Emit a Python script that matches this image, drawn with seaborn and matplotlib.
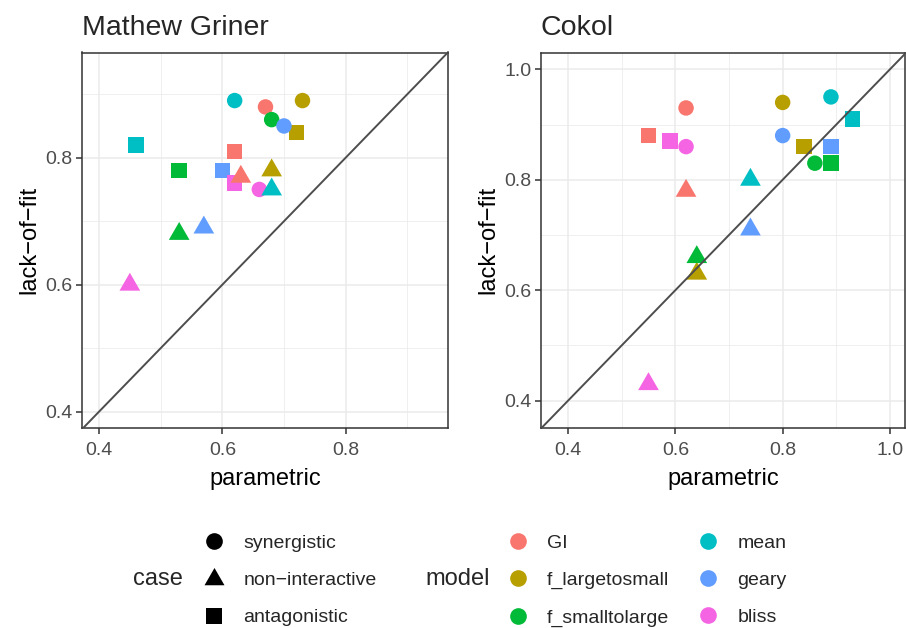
import numpy as np
import pandas as pd
import matplotlib
matplotlib.use("Agg")
import matplotlib.pyplot as plt
import seaborn as sns
from matplotlib.path import Path
from matplotlib.lines import Line2D
from matplotlib.ticker import MultipleLocator, FormatStrFormatter

# ---------------- data ----------------
models = ["GI", "f_largetosmall", "f_smalltolarge", "mean", "geary", "bliss"]
cases = ["synergistic", "non-interactive", "antagonistic"]
case_labels = ["synergistic", "non\u2212interactive", "antagonistic"]
palette = ["#F8766D", "#B79F00", "#00BA38", "#00BFC4", "#619CFF", "#F564E3"]
panels = ["Mathew Griner", "Cokol"]

# Mathew Griner panel (values in model order)
griner_syn_x = [0.67, 0.73, 0.68, 0.62, 0.70, 0.66]
griner_syn_y = [0.88, 0.89, 0.86, 0.89, 0.85, 0.75]
griner_non_x = [0.63, 0.68, 0.53, 0.68, 0.57, 0.45]
griner_non_y = [0.77, 0.78, 0.68, 0.75, 0.69, 0.60]
griner_ant_x = [0.62, 0.72, 0.53, 0.46, 0.60, 0.62]
griner_ant_y = [0.81, 0.84, 0.78, 0.82, 0.78, 0.76]

# Cokol panel (values in model order)
cokol_syn_x = [0.62, 0.80, 0.86, 0.89, 0.80, 0.62]
cokol_syn_y = [0.93, 0.94, 0.83, 0.95, 0.88, 0.86]
cokol_non_x = [0.62, 0.64, 0.64, 0.74, 0.74, 0.55]
cokol_non_y = [0.78, 0.63, 0.66, 0.80, 0.71, 0.43]
cokol_ant_x = [0.55, 0.84, 0.89, 0.93, 0.89, 0.59]
cokol_ant_y = [0.88, 0.86, 0.83, 0.91, 0.86, 0.87]

griner_limits = (0.3724, 0.966), (0.3743, 0.9657)
cokol_limits = (0.3497, 1.028), (0.3506, 1.0304)

# ---------------- table ----------------
rows = []
series = {
    "Mathew Griner": {
        "antagonistic": (griner_ant_x, griner_ant_y),
        "synergistic": (griner_syn_x, griner_syn_y),
        "non-interactive": (griner_non_x, griner_non_y),
    },
    "Cokol": {
        "antagonistic": (cokol_ant_x, cokol_ant_y),
        "synergistic": (cokol_syn_x, cokol_syn_y),
        "non-interactive": (cokol_non_x, cokol_non_y),
    },
}
for p in panels:
    for c in ["antagonistic", "synergistic", "non-interactive"]:
        xs, ys = series[p][c]
        for m, xv, yv in zip(models, xs, ys):
            rows.append(dict(panel=p, case=c, model=m, parametric=xv, lackfit=yv))
df = pd.DataFrame(rows)

# ---------------- style ----------------
sns.set_style("white")
plt.rcParams["font.family"] = ["Liberation Sans", "DejaVu Sans"]

W, H = 906, 628
fig = plt.figure(figsize=(W / 100, H / 100), dpi=100)

tri = Path([(0, 0.57735), (-0.5, -0.288675), (0.5, -0.288675), (0, 0.57735)],
           [Path.MOVETO, Path.LINETO, Path.LINETO, Path.CLOSEPOLY])

axes_px = {"Mathew Griner": (82, 448), "Cokol": (541, 905)}
top_px, bot_px = 52.5, 428
limits = {"Mathew Griner": griner_limits, "Cokol": cokol_limits}

for p in panels:
    l, r = axes_px[p]
    ax = fig.add_axes([l / W, 1 - bot_px / H, (r - l) / W, (bot_px - top_px) / H])
    sub = df[df.panel == p]
    cs = sub[sub.case != "non-interactive"]
    tr = sub[sub.case == "non-interactive"]
    sns.scatterplot(data=cs, x="parametric", y="lackfit", hue="model",
                    hue_order=models, palette=palette, style="case",
                    style_order=["synergistic", "antagonistic"],
                    markers={"synergistic": "o", "antagonistic": "s"},
                    s=124, linewidth=0, edgecolor="none", legend=False, ax=ax,
                    zorder=1)
    sns.scatterplot(data=tr, x="parametric", y="lackfit", hue="model",
                    hue_order=models, palette=palette, marker=tri,
                    s=296, linewidth=0, edgecolor="none", legend=False, ax=ax,
                    zorder=1)
    ax.axline((0, 0), slope=1, color="#4D4D4D", lw=1.4, zorder=3)
    (x0, x1), (y0, y1) = limits[p]
    ax.set_xlim(x0, x1)
    ax.set_ylim(y0, y1)
    for axis in (ax.xaxis, ax.yaxis):
        axis.set_major_locator(MultipleLocator(0.2))
        axis.set_minor_locator(MultipleLocator(0.1))
        axis.set_major_formatter(FormatStrFormatter("%.1f"))
    ax.set_axisbelow(True)
    ax.grid(which="major", color="#EBEBEB", lw=1.1)
    ax.grid(which="minor", color="#EBEBEB", lw=0.55)
    ax.tick_params(which="major", length=4.3, width=1.1, color="#333333",
                   labelcolor="#4D4D4D", labelsize=14,
                   bottom=True, left=True)
    ax.tick_params(axis="x", which="major", pad=6)
    ax.tick_params(axis="y", which="major", pad=2.5)
    ax.tick_params(which="minor", length=0)
    for s in ax.spines.values():
        s.set_color("#333333")
        s.set_linewidth(1.1)
    ax.set_xlabel("parametric", fontsize=17, color="black", labelpad=6.5)
    ax.set_ylabel("lack\u2212of\u2212fit", fontsize=17, color="black", labelpad=3.5)
    ax.set_title(p, loc="left", fontsize=20.5, pad=12.8)

# ---------------- legends ----------------
fs = 14
case_markers = ["o", tri, "s"]
case_ms = [12, 16.6, 12]
case_handles = [Line2D([], [], ls="", marker=m, markersize=ms, color="black",
                       markeredgewidth=0) for m, ms in zip(case_markers, case_ms)]
ycen = 1 - 580.5 / H
leg1 = fig.legend(case_handles, case_labels, loc="center left",
                  bbox_to_anchor=(204.4 / W, ycen), frameon=False, fontsize=fs,
                  handlelength=1.0, handletextpad=1.0, labelspacing=1.0,
                  borderpad=0, borderaxespad=0)
model_handles = [Line2D([], [], ls="", marker="o", markersize=12, color=c,
                        markeredgewidth=0) for c in palette]
leg2 = fig.legend(model_handles, models, loc="center left", ncol=2,
                  bbox_to_anchor=(508.1 / W, ycen), frameon=False, fontsize=fs,
                  handlelength=1.0, handletextpad=1.0, labelspacing=1.0,
                  columnspacing=1.5, borderpad=0, borderaxespad=0)
ytitle = 1 - 579 / H
fig.text(133 / W, ytitle, "case", fontsize=17, ha="left", va="center")
fig.text(425 / W, ytitle, "model", fontsize=17, ha="left", va="center")

fig.savefig("out.png", dpi=100)
